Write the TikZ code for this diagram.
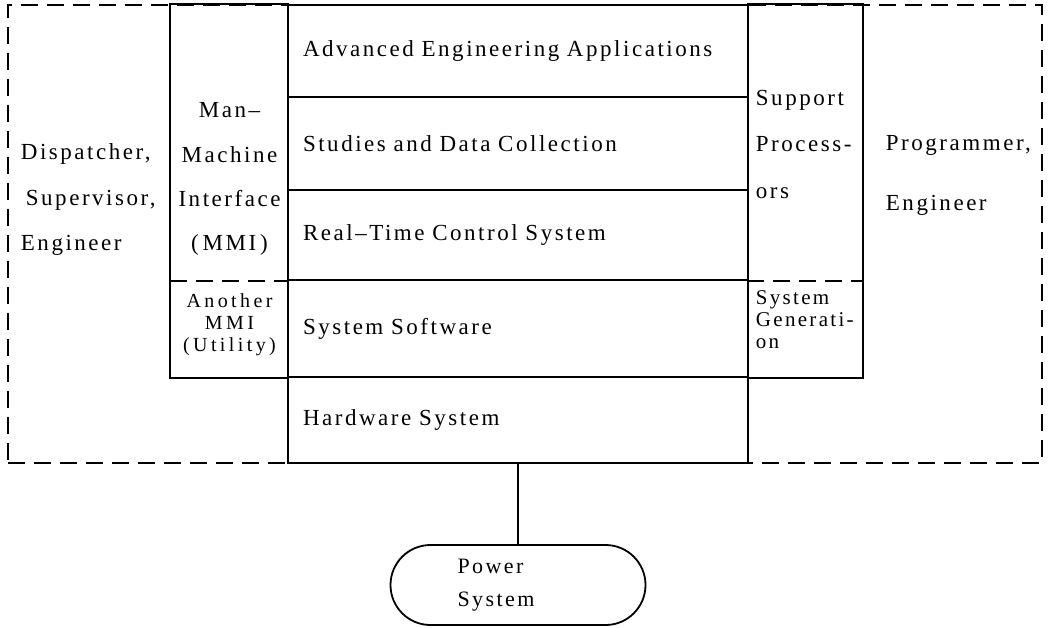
\documentclass[tikz,border=0pt]{standalone}
\usepackage{fontspec}
\setmainfont{Liberation Serif}[LetterSpace=11,WordSpace=1.6]
\newfontfamily\widefont{Liberation Serif}[LetterSpace=17,WordSpace=1.6]
\begin{document}
\begin{tikzpicture}[x=1pt,y=-1pt,line width=1.8pt,
  dashline/.style={draw,dash pattern=on 17pt off 9pt,line width=1.8pt},
  area/.style={rectangle,inner sep=0pt},
  layer/.style={draw,rectangle,minimum width=460pt,text width=430pt,inner xsep=14pt,inner ysep=0pt,align=left,font=\fontsize{23}{26}\selectfont},
  lbl/.style={inner sep=0pt,font=\fontsize{23}{45.5}\selectfont},
  small/.style={inner sep=0pt,font=\fontsize{21}{22}\selectfont}]
\useasboundingbox (0,0) rectangle (1049,628);
% outer dashed user area
\node[dashline,area,minimum width=1034pt,minimum height=458pt] (users) at (525,234) {};
% left / right column areas
\node[area,minimum width=117pt,minimum height=275pt] (mmi) at (229.5,142.5) {};
\node[area,minimum width=117pt,minimum height=97pt] (another) at (229.5,328.5) {};
\node[area,minimum width=114pt,minimum height=275pt] (support) at (805,142.5) {};
\node[area,minimum width=114pt,minimum height=97pt] (sysgen) at (805,328.5) {};
\draw (mmi.south west) -- (mmi.north west) -- (mmi.north east);
\draw[dashline] (mmi.south west) -- (mmi.south east);
\draw (another.north west) -- (another.south west) -- (another.south east);
\draw (support.north west) -- (support.north east) -- (support.south east);
\draw[dashline] (support.south west) -- (support.south east);
\draw (sysgen.north east) -- (sysgen.south east) -- (sysgen.south west);
% central layers
\node[layer,minimum height=92pt] (adv) at (518,51) {Advanced Engineering Applications};
\node[layer,minimum height=93pt] (stud) at (518,143.5) {Studies and Data Collection};
\node[layer,minimum height=90pt] (rt) at (518,235) {Real--Time Control System};
\node[layer,minimum height=97pt] (sys) at (518,328.5) {System Software};
\node[layer,minimum height=86pt] (hw) at (518,420) {Hardware System};
% labels
\node[lbl,anchor=north west,align=left] (disp) at (20,143) {Dispatcher,\\\hspace*{5pt}Supervisor,\\Engineer};
\node[lbl,anchor=north,align=center,font=\fontsize{23}{44.3}\selectfont] (mmitxt) at (229.5,102) {Man--\\Machine\\Interface\\(\,MMI\,)};
\node[small,anchor=north,align=center,font=\widefont\fontsize{20}{22}\selectfont] (anothertxt) at (229.5,293) {Another\\MMI\\(Utility)};
\node[lbl,anchor=north west,align=left,font=\fontsize{23}{46.5}\selectfont] (suptxt) at (755,89) {Support\\Process-\\ors};
\node[small,anchor=north west,align=left] (sysgentxt) at (755,290) {System\\Generati-\\on};
\node[lbl,anchor=north west,align=left,font=\fontsize{23}{60}\selectfont] (prog) at (885,135) {Programmer,\\Engineer};
% power system
\node[draw,rounded corners=40pt,minimum width=255pt,minimum height=80pt,text width=121pt,inner xsep=67pt,align=left,font=\fontsize{22}{33}\selectfont] (power) at (518,585) {Power\\System};
\draw (hw.south) -- (power.north);
\end{tikzpicture}
\end{document}
